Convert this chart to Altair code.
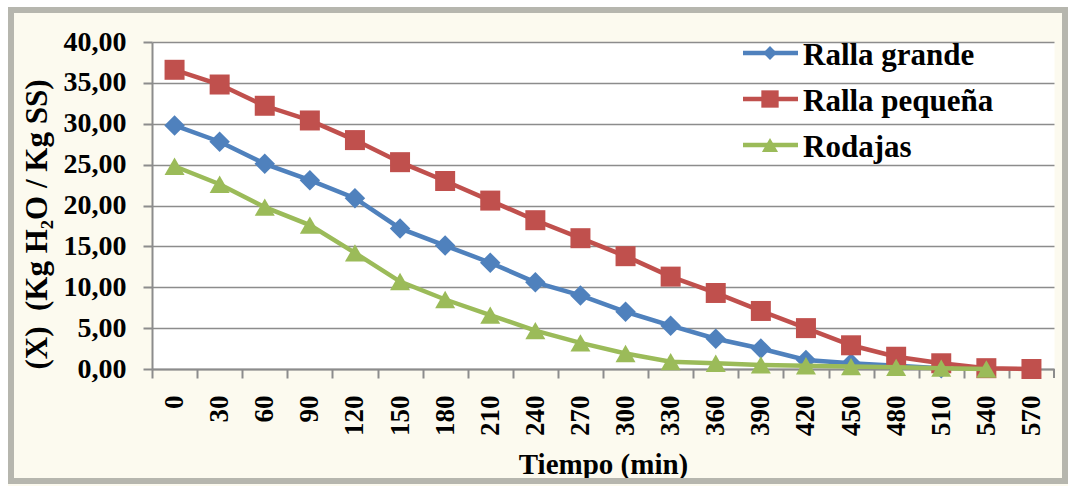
import altair as alt
import pandas as pd

# ---- data ----
tiempo = [0, 30, 60, 90, 120, 150, 180, 210, 240, 270, 300, 330, 360, 390, 420, 450, 480, 510, 540, 570]
ralla_grande = [29.8, 27.8, 25.1, 23.1, 20.9, 17.2, 15.1, 13.0, 10.6, 9.0, 7.0, 5.3, 3.7, 2.5, 1.1, 0.7, 0.4, 0.1]
ralla_pequena = [36.6, 34.8, 32.2, 30.4, 28.0, 25.3, 23.0, 20.6, 18.2, 16.0, 13.8, 11.3, 9.3, 7.1, 5.0, 2.9, 1.5, 0.7, 0.1, 0.0]
rodajas = [24.8, 22.6, 19.8, 17.6, 14.2, 10.7, 8.5, 6.6, 4.7, 3.2, 1.9, 0.9, 0.7, 0.5, 0.4, 0.3, 0.2, 0.1, 0.0]
y_ticks = [0, 5, 10, 15, 20, 25, 30, 35, 40]

series_names = ["Ralla grande", "Ralla pequeña", "Rodajas"]
series_values = [ralla_grande, ralla_pequena, rodajas]
series_colors = ["#4F81BD", "#C0504D", "#9BBB59"]
series_shapes = ["diamond", "square", "triangle-up"]
series_sizes = [420, 400, 400]
legend_sizes = [190, 300, 260]

W, H = 902, 327
FONT = "Liberation Serif"
AXIS_GRAY = "#8C8C8C"
x_labels = [str(t) for t in tiempo]
HALF_BAND = W / len(x_labels) / 2


def x_enc(field="t"):
    return alt.X(
        f"{field}:O",
        sort=x_labels,
        bandPosition=0.5,
        scale=alt.Scale(type="band", domain=x_labels, paddingInner=0, paddingOuter=0),
        axis=alt.Axis(
            bandPosition=0.5,
            tickOffset=-HALF_BAND,
            labelOffset=HALF_BAND,
            labelAngle=-90,
            labelFont=FONT,
            labelFontWeight="bold",
            labelFontSize=27,
            labelColor="black",
            labelPadding=17,
            tickSize=9,
            tickWidth=2,
            tickColor=AXIS_GRAY,
            domainColor=AXIS_GRAY,
            domainWidth=2,
            grid=False,
            title="Tiempo (min)",
            titleFont=FONT,
            titleFontWeight="bold",
            titleFontSize=29,
            titleColor="black",
            titleBaseline="alphabetic",
            titleY=104,
        ),
    )


y_enc = alt.Y(
    "v:Q",
    scale=alt.Scale(domain=[0, 40], nice=False, zero=True),
    axis=alt.Axis(
        values=y_ticks,
        labelExpr="replace(format(datum.value, '.2f'), '.', ',')",
        labelFont=FONT,
        labelFontWeight="bold",
        labelFontSize=28,
        labelColor="black",
        labelPadding=17,
        tickSize=9,
        tickWidth=2,
        tickColor=AXIS_GRAY,
        domainColor=AXIS_GRAY,
        domainWidth=2,
        grid=True,
        gridColor=AXIS_GRAY,
        gridWidth=1.5,
        title="(X)\u00a0 (Kg H₂O / Kg SS)",
        titleFont=FONT,
        titleFontWeight="bold",
        titleFontSize=31,
        titleColor="black",
        titleAngle=-90,
        titleAlign="center",
        titleBaseline="alphabetic",
        titleX=-106,
        titleY=182,
    ),
)

one = pd.DataFrame({"a": [0]})
layers = []

# frame (outer white margin and bevel) - stroke only, outside the plot area
layers.append(
    alt.Chart(one).mark_rect(fill="white", fillOpacity=0, stroke="white", strokeWidth=8).encode(
        x=alt.value(-148), x2=alt.value(920), y=alt.value(-39), y2=alt.value(448)
    )
)
layers.append(
    alt.Chart(one).mark_rect(fill="white", fillOpacity=0, stroke="#B6B6AE", strokeWidth=6).encode(
        x=alt.value(-141), x2=alt.value(913), y=alt.value(-32), y2=alt.value(439)
    )
)

# data series
for name, vals, col, shp, sz in zip(series_names, series_values, series_colors, series_shapes, series_sizes):
    df = pd.DataFrame({"t": x_labels[: len(vals)], "v": vals, "s": name})
    base = alt.Chart(df)
    layers.append(base.mark_line(color=col, strokeWidth=4.5).encode(x=x_enc(), y=y_enc))
    layers.append(
        base.mark_point(filled=True, shape=shp, size=sz, color=col, opacity=1).encode(x=x_enc(), y=y_enc)
    )

# right-end tick of the category axis
layers.append(
    alt.Chart(one).mark_rule(color=AXIS_GRAY, strokeWidth=2).encode(
        x=alt.value(W), y=alt.value(H), y2=alt.value(H + 9)
    )
)

# manual legend (line + marker + label) inside the plot
legend_rows = [11, 57, 103]
for name, col, shp, lsz, ry in zip(series_names, series_colors, series_shapes, legend_sizes, legend_rows):
    layers.append(
        alt.Chart(one).mark_rule(color=col, strokeWidth=4.5).encode(
            x=alt.value(591), x2=alt.value(646), y=alt.value(ry)
        )
    )
    layers.append(
        alt.Chart(one).mark_point(filled=True, shape=shp, size=lsz, color=col, opacity=1).encode(
            x=alt.value(618), y=alt.value(ry)
        )
    )
    layers.append(
        alt.Chart(one).mark_text(
            text=name, align="left", baseline="alphabetic", font=FONT, fontWeight="bold",
            fontSize=31, color="black"
        ).encode(x=alt.value(651), y=alt.value(ry + 12))
    )

chart = (
    alt.layer(*layers)
    .properties(
        width=W,
        height=H,
        autosize=alt.AutoSizeParams(type="none"),
        padding={"left": 152, "top": 42, "right": 17, "bottom": 118},
        background="#FCFAEF",
    )
    .configure_view(fill="white", stroke="transparent")
)

chart.save("out.html", embed_options={"renderer": "svg", "actions": False})
